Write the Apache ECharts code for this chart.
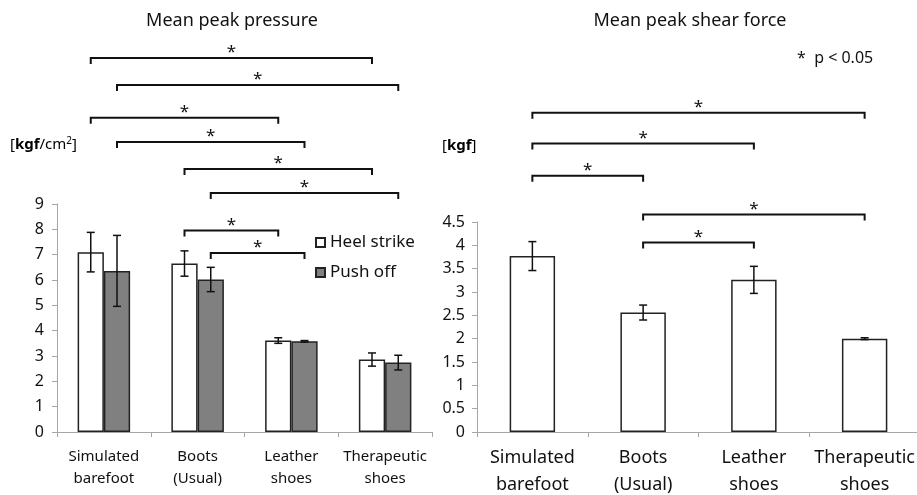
<!DOCTYPE html>
<html>
<head>
<meta charset="utf-8">
<script src="https://cdn.jsdelivr.net/npm/echarts@6/dist/echarts.min.js"></script>
<style>
  html, body { margin: 0; padding: 0; background: #fff; }
  #chart { width: 917px; height: 495px; }
</style>
</head>
<body>
<div id="chart"></div>
<script>
// categories
const categories = ['Simulated\nbarefoot', 'Boots\n(Usual)', 'Leather\nshoes', 'Therapeutic\nshoes'];

// mean peak pressure [kgf/cm2]
const heelStrike = [7.1, 6.65, 3.61, 2.86];
const heelStrikeSd = [0.78, 0.5, 0.11, 0.26];
const pushOff = [6.36, 6.02, 3.58, 2.74];
const pushOffSd = [1.4, 0.48, 0.03, 0.29];

// mean peak shear force [kgf]
const shear = [3.77, 2.56, 3.26, 2.0];
const shearSd = [0.31, 0.16, 0.29, 0.02];

// significance brackets: [fromCategory, toCategory, side (-1 heel, 1 push, 0 single), level]
const pressureBrackets = [
    [0, 3, -1, 14.76],
    [0, 3, 1, 13.7],
    [0, 2, -1, 12.4],
    [0, 2, 1, 11.45],
    [1, 3, -1, 10.38],
    [1, 3, 1, 9.43],
    [1, 2, -1, 7.95],
    [1, 2, 1, 7.07]
];
const shearBrackets = [
    [0, 3, 0, 6.84],
    [0, 2, 0, 6.18],
    [0, 1, 0, 5.49],
    [1, 3, 0, 4.66],
    [1, 2, 0, 4.06]
];

const pressureTicks = [0, 9, 1];
const shearTicks = [0, 4.5, 0.5];

const FONT = 'Noto Sans';
const pressureBarFrac = 0.28;
const axisGrey = '#a6a6a6';

function errorData(means, sds, side) {
    return means.map((m, i) => [i, m, sds[i], side]);
}

function renderError(barFrac) {
    return function (params, api) {
        const cat = api.value(0);
        const mean = api.value(1);
        const sd = api.value(2);
        const side = api.value(3);
        const bw = api.size([1, 0])[0];
        const dx = side * bw * barFrac / 2;
        const top = api.coord([cat, mean + sd]);
        const bot = api.coord([cat, mean - sd]);
        const x = top[0] + dx;
        const cap = 4;
        const style = { stroke: '#111', lineWidth: 1.5 };
        return {
            type: 'group',
            children: [
                { type: 'line', shape: { x1: x, y1: top[1], x2: x, y2: bot[1] }, style: style },
                { type: 'line', shape: { x1: x - cap, y1: top[1], x2: x + cap, y2: top[1] }, style: style },
                { type: 'line', shape: { x1: x - cap, y1: bot[1], x2: x + cap, y2: bot[1] }, style: style }
            ]
        };
    };
}

function renderBracket(barFrac) {
    return function (params, api) {
        const from = api.value(0);
        const to = api.value(1);
        const side = api.value(2);
        const level = api.value(3);
        const bw = api.size([1, 0])[0];
        const dx = side * bw * barFrac / 2;
        const p1 = api.coord([from, level]);
        const p2 = api.coord([to, level]);
        const x1 = p1[0] + dx;
        const x2 = p2[0] + dx;
        const y = p1[1];
        return {
            type: 'group',
            children: [
                {
                    type: 'polyline',
                    shape: { points: [[x1, y + 6], [x1, y], [x2, y], [x2, y + 6]] },
                    style: { stroke: '#111', lineWidth: 2, fill: null }
                },
                {
                    type: 'text',
                    style: {
                        text: '*', x: (x1 + x2) / 2, y: y + 3,
                        align: 'center', verticalAlign: 'bottom',
                        font: '17px "' + FONT + '"', fill: '#111'
                    }
                }
            ]
        };
    };
}

function catAxis(gridIndex, fontSize, lineHeight, margin) {
    return {
        type: 'category',
        gridIndex: gridIndex,
        data: categories,
        axisLine: { lineStyle: { color: axisGrey, width: 1 } },
        axisTick: { show: true, length: 5, lineStyle: { color: axisGrey } },
        axisLabel: { interval: 0, color: '#111', fontFamily: FONT, fontSize: fontSize, lineHeight: lineHeight, margin: margin }
    };
}

function valAxis(gridIndex, ticks, margin) {
    return {
        type: 'value',
        gridIndex: gridIndex,
        min: ticks[0], max: ticks[1], interval: ticks[2],
        splitLine: { show: false },
        axisLine: { show: true, lineStyle: { color: axisGrey, width: 1 } },
        axisTick: { show: true, length: 5, lineStyle: { color: axisGrey } },
        axisLabel: { color: '#111', fontFamily: FONT, fontSize: 16, margin: margin }
    };
}

const chart = echarts.init(document.getElementById('chart'));

const option = {
    animation: false,
    backgroundColor: '#fff',
    textStyle: { fontFamily: FONT },
    title: [
        { text: 'Mean peak pressure', left: 227, top: 7, textAlign: 'center',
          textStyle: { fontFamily: FONT, fontSize: 18, fontWeight: 'normal', color: '#111' } },
        { text: 'Mean peak shear force', left: 685, top: 7, textAlign: 'center',
          textStyle: { fontFamily: FONT, fontSize: 18, fontWeight: 'normal', color: '#111' } }
    ],
    graphic: [
        {
            type: 'text', left: 10, top: 136,
            style: {
                text: '{n|[}{b|kgf}{n|/cm}{s|2}{n|]}',
                rich: {
                    n: { fontFamily: FONT, fontSize: 15, color: '#111' },
                    b: { fontFamily: FONT, fontSize: 15, fontWeight: 'bold', color: '#111' },
                    s: { fontFamily: FONT, fontSize: 10, color: '#111', verticalAlign: 'top', padding: [0, 0, 8, 0] }
                }
            }
        },
        {
            type: 'text', left: 442, top: 138,
            style: {
                text: '{n|[}{b|kgf}{n|]}',
                rich: {
                    n: { fontFamily: FONT, fontSize: 15, color: '#111' },
                    b: { fontFamily: FONT, fontSize: 15, fontWeight: 'bold', color: '#111' }
                }
            }
        },
        {
            type: 'text', left: 797, top: 50,
            style: { text: '*  p < 0.05', font: '16px "' + FONT + '"', fill: '#111' }
        }
    ],
    legend: {
        left: 310, top: 229,
        orient: 'vertical',
        itemWidth: 9, itemHeight: 9, itemGap: 13,
        icon: 'rect',
        data: ['Heel strike', 'Push off'],
        textStyle: { fontFamily: FONT, fontSize: 17, color: '#111' }
    },
    grid: [
        { left: 57, top: 204, width: 375, height: 228, outerBoundsMode: 'none' },
        { left: 477, top: 222, width: 443, height: 210, outerBoundsMode: 'none' }
    ],
    xAxis: [catAxis(0, 15, 22, 14), catAxis(1, 18, 27, 12)],
    yAxis: [valAxis(0, pressureTicks, 13), valAxis(1, shearTicks, 12)],
    series: [
        {
            name: 'Heel strike', type: 'bar', xAxisIndex: 0, yAxisIndex: 0,
            data: heelStrike, barWidth: (pressureBarFrac * 100) + '%', barGap: '0%',
            itemStyle: { color: '#fff', borderColor: '#222', borderWidth: 1.5 }
        },
        {
            name: 'Push off', type: 'bar', xAxisIndex: 0, yAxisIndex: 0,
            data: pushOff, barWidth: (pressureBarFrac * 100) + '%', barGap: '0%',
            itemStyle: { color: '#808080', borderColor: '#222', borderWidth: 1.5 }
        },
        {
            name: 'Shear', type: 'bar', xAxisIndex: 1, yAxisIndex: 1,
            data: shear, barWidth: '41%',
            itemStyle: { color: '#fff', borderColor: '#222', borderWidth: 1.5 }
        },
        {
            type: 'custom', xAxisIndex: 0, yAxisIndex: 0, clip: false, z: 5,
            renderItem: renderError(pressureBarFrac),
            data: errorData(heelStrike, heelStrikeSd, -1).concat(errorData(pushOff, pushOffSd, 1)),
            encode: { x: 0, y: 1 }
        },
        {
            type: 'custom', xAxisIndex: 1, yAxisIndex: 1, clip: false, z: 5,
            renderItem: renderError(0),
            data: errorData(shear, shearSd, 0),
            encode: { x: 0, y: 1 }
        },
        {
            type: 'custom', xAxisIndex: 0, yAxisIndex: 0, clip: false, z: 5,
            renderItem: renderBracket(pressureBarFrac),
            data: pressureBrackets,
            encode: { x: 0, y: 3 }
        },
        {
            type: 'custom', xAxisIndex: 1, yAxisIndex: 1, clip: false, z: 5,
            renderItem: renderBracket(0),
            data: shearBrackets,
            encode: { x: 0, y: 3 }
        }
    ]
};

chart.setOption(option);
</script>
</body>
</html>
